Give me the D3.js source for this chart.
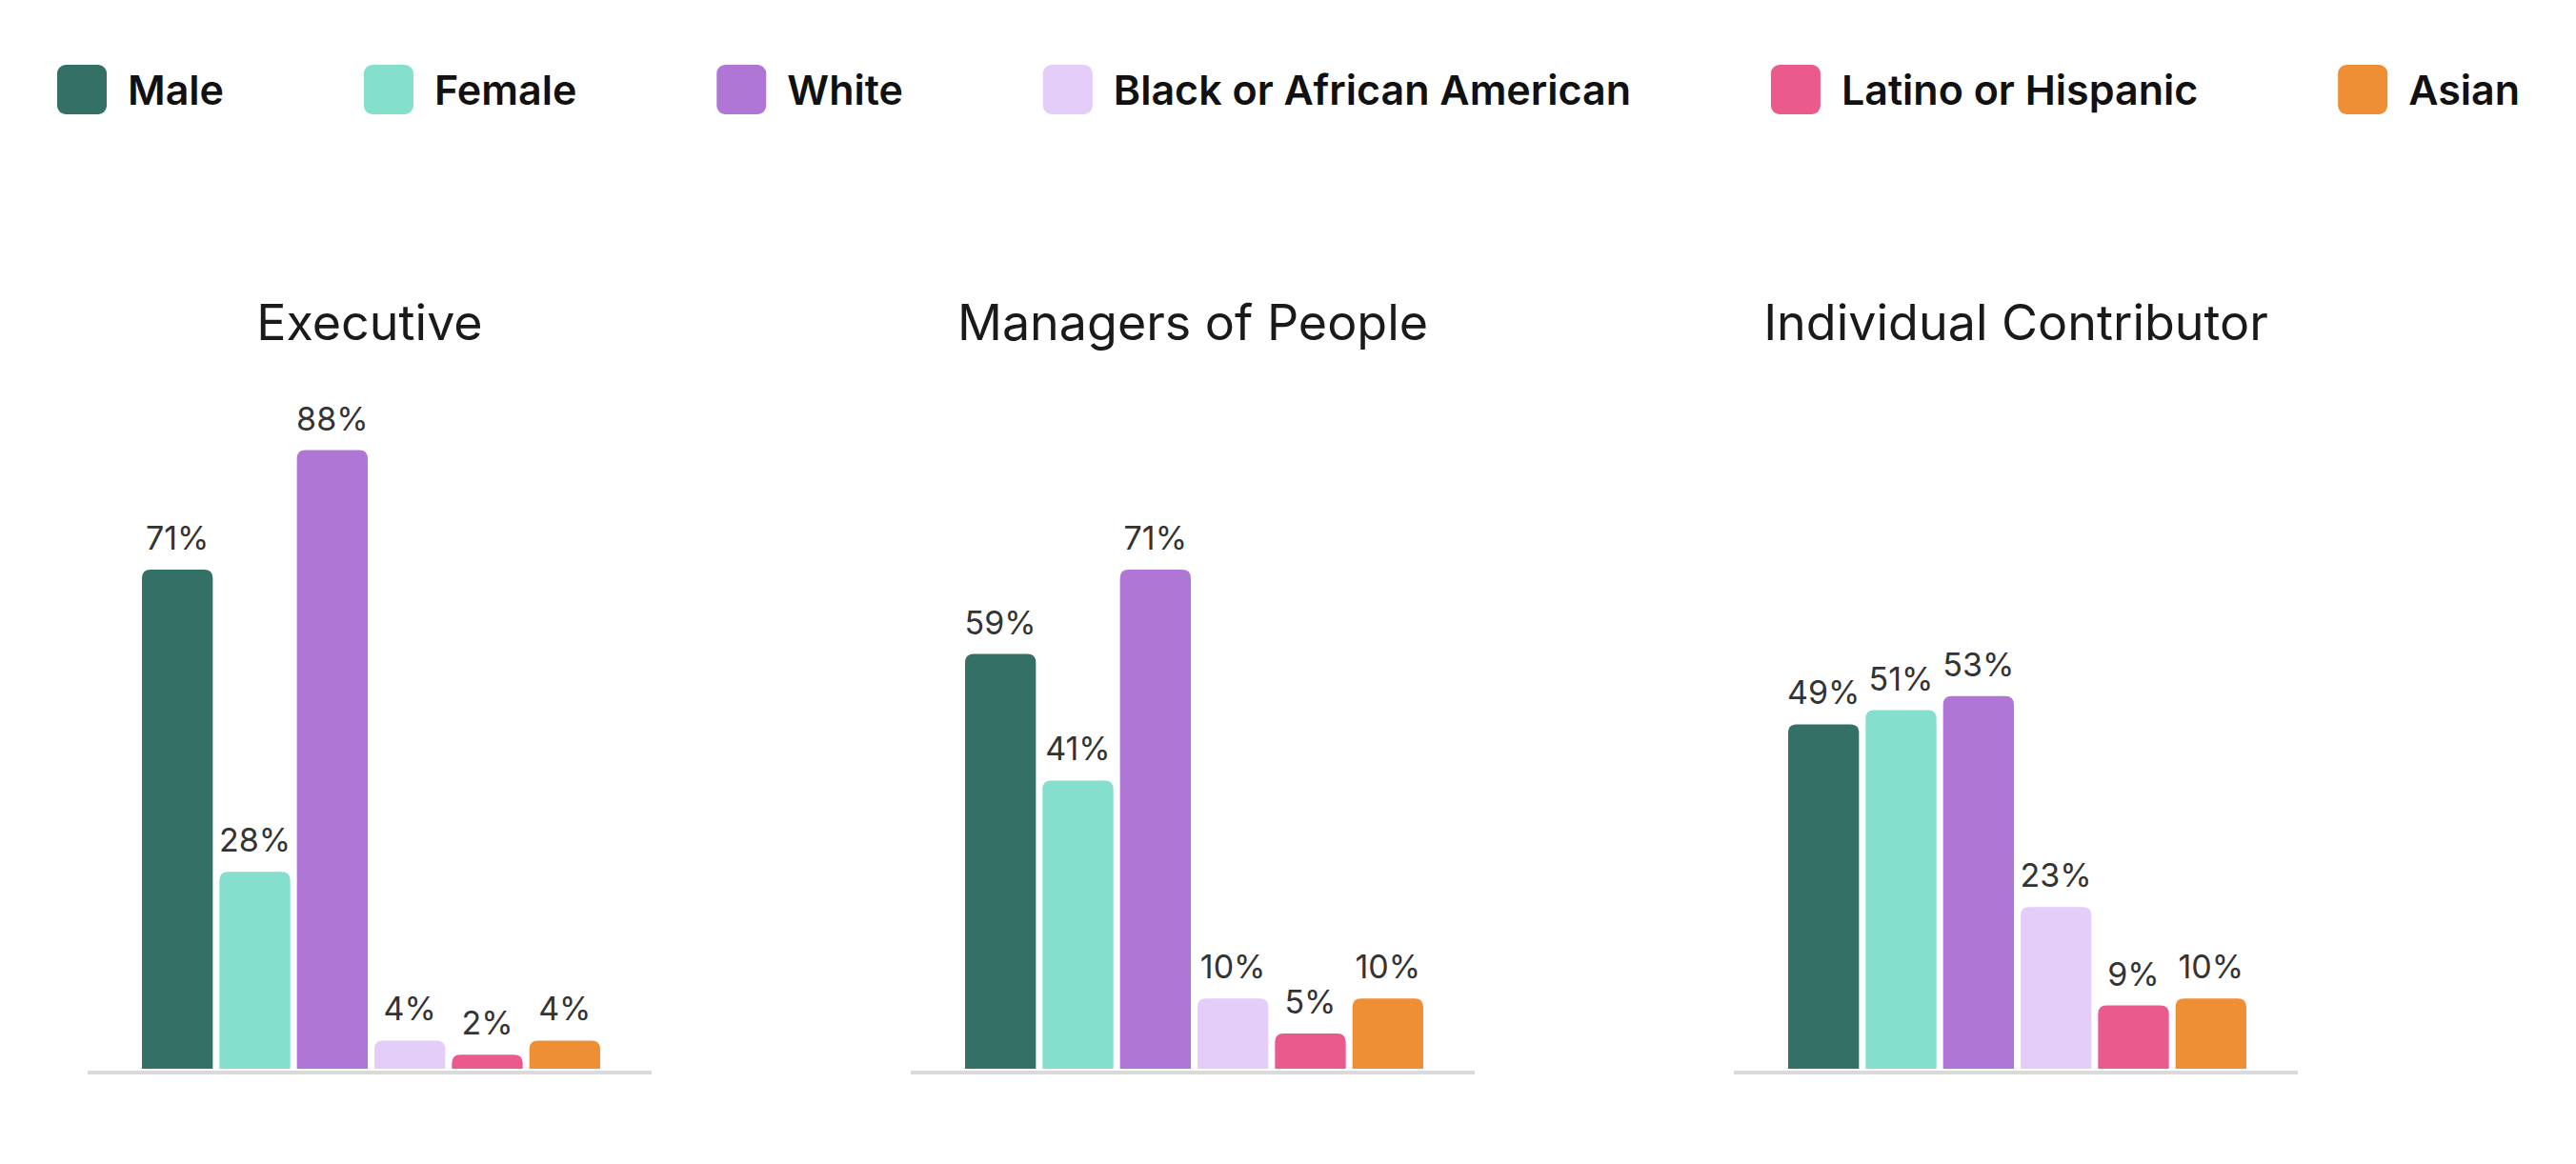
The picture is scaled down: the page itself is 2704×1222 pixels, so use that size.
<!DOCTYPE html>
<html>
<head>
<meta charset="utf-8">
<script src="https://cdn.jsdelivr.net/npm/d3@7"></script>
<style>
  body { margin: 0; background: #fff; }
  text { font-family: Inter, "Noto Sans", sans-serif; }
</style>
</head>
<body>
<div id="chart"></div>
<script>
// Data
const groups = ["Male", "Female", "White", "Black or African American", "Latino or Hispanic", "Asian"];
const colors = ["#347066", "#84dfcc", "#b076d6", "#e4cdf9", "#eb5a8c", "#ef8f35"];
const panels = ["Executive", "Managers of People", "Individual Contributor"];
const executive = [71, 28, 88, 4, 2, 4];
const managers = [59, 41, 71, 10, 5, 10];
const contributors = [49, 51, 53, 23, 9, 10];
const panelValues = [executive, managers, contributors];

const width = 2704, height = 1222;

const svg = d3.select("#chart")
  .append("svg")
  .attr("width", width)
  .attr("height", height);

svg.append("rect")
  .attr("width", width)
  .attr("height", height)
  .attr("fill", "#fff");

// Legend, spread across the top like a space-between row
const legend = svg.append("g").attr("class", "legend");
const legendLeft = 60, legendRight = 2645, swatch = 52, swatchGap = 22;

const items = legend.selectAll(".legend-item")
  .data(groups)
  .enter()
  .append("g")
  .attr("class", "legend-item");

items.append("rect")
  .attr("y", 68)
  .attr("width", swatch)
  .attr("height", swatch)
  .attr("rx", 9)
  .style("fill", function (d, i) { return colors[i]; });

items.append("text")
  .attr("x", swatch + swatchGap)
  .attr("y", 110)
  .attr("font-size", 43)
  .attr("font-weight", 600)
  .attr("fill", "#111")
  .text(function (d) { return d; });

const itemWidths = [];
items.each(function () { itemWidths.push(this.getBBox().width); });
const freeSpace = (legendRight - legendLeft) - d3.sum(itemWidths);
const gap = freeSpace / (groups.length - 1);
let cursor = legendLeft;
items.attr("transform", function (d, i) {
  const x = cursor;
  cursor += itemWidths[i] + gap;
  return "translate(" + x + ",0)";
});

// Panels
const panelWidth = 592, panelStep = 864, firstPanel = 92;
const baseline = 1122;

const y = d3.scaleLinear()
  .domain([0, 100])
  .range([baseline, baseline - 738]);

const x = d3.scaleBand()
  .domain(groups)
  .range([57, 538])
  .paddingInner(0.086)
  .paddingOuter(0);

// bar with rounded top corners only
function barPath(x0, w, yTop, yBottom, r) {
  r = Math.min(r, (yBottom - yTop), w / 2);
  return "M" + x0 + "," + yBottom +
    "V" + (yTop + r) +
    "Q" + x0 + "," + yTop + " " + (x0 + r) + "," + yTop +
    "H" + (x0 + w - r) +
    "Q" + (x0 + w) + "," + yTop + " " + (x0 + w) + "," + (yTop + r) +
    "V" + yBottom + "Z";
}

panels.forEach(function (title, p) {
  const g = svg.append("g")
    .attr("transform", "translate(" + (firstPanel + p * panelStep) + ",0)");

  g.append("text")
    .attr("x", panelWidth / 2)
    .attr("y", 357)
    .attr("text-anchor", "middle")
    .attr("font-size", 52)
    .attr("fill", "#1a1a1a")
    .text(title);

  const rows = groups.map(function (name, i) {
    return { name: name, value: panelValues[p][i], color: colors[i] };
  });

  g.selectAll("path.bar")
    .data(rows)
    .enter()
    .append("path")
    .attr("class", "bar")
    .attr("d", function (d) { return barPath(x(d.name), x.bandwidth(), y(d.value), baseline, 9); })
    .style("fill", function (d) { return d.color; });

  g.selectAll("text.value")
    .data(rows)
    .enter()
    .append("text")
    .attr("class", "value")
    .attr("x", function (d) { return x(d.name) + x.bandwidth() / 2; })
    .attr("y", function (d) { return y(d.value) - 21; })
    .attr("text-anchor", "middle")
    .attr("font-size", 34)
    .attr("fill", "#333")
    .text(function (d) { return d.value + "%"; });

  g.append("line")
    .attr("x1", 0)
    .attr("x2", panelWidth)
    .attr("y1", baseline + 4)
    .attr("y2", baseline + 4)
    .attr("stroke", "#dadada")
    .attr("stroke-width", 4);
});
</script>
</body>
</html>
